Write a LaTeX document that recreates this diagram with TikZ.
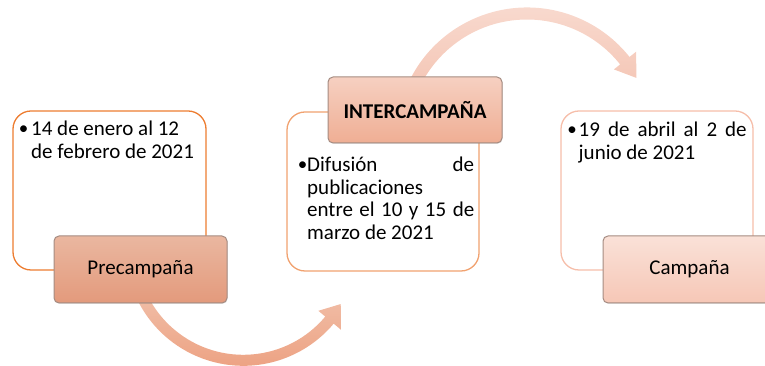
\documentclass[tikz,border=0pt]{standalone}
\usepackage{fontspec}
\setmainfont{Carlito}
\usetikzlibrary{shadows}
\definecolor{edge1}{RGB}{237,125,49}
\definecolor{edge2}{RGB}{241,162,112}
\definecolor{edge3}{RGB}{246,190,170}
\definecolor{tagedge}{RGB}{165,140,130}
\begin{document}
\begin{tikzpicture}[x=1pt,y=1pt,
  panel/.style={draw, line width=1.3pt, rounded corners=18pt, fill=white, inner sep=0pt},
  tagbox/.style={draw=tagedge, line width=1pt, rounded corners=5pt, inner sep=0pt,
    font=\fontsize{21}{23}\selectfont,
    drop shadow={shadow xshift=0.6pt, shadow yshift=-0.8pt, opacity=0.25}},
  txt/.style={inner sep=0pt, anchor=base west, font=\fontsize{21}{23}\selectfont},
  bul/.style={inner sep=0pt, anchor=center, font=\fontsize{19}{23}\selectfont}
]
\path[use as bounding box] (0,0) rectangle (765,366);
\clip (0,0) rectangle (765,366);

% panels
\node[panel, draw=edge1, minimum width=193pt, minimum height=159pt] (p1) at (109.5,175.5) {};
\node[panel, draw=edge2, minimum width=192pt, minimum height=159pt] (p2) at (383,174.5) {};
\node[panel, draw=edge3, minimum width=192pt, minimum height=159pt] (p3) at (657,175.5) {};

% arrows
\coordinate (c1) at (243.3,118.2);
\coordinate (c2) at (527,227.5);
\shade[top color={rgb,255:red,241;green,192;blue,170}, bottom color={rgb,255:red,236;green,157;blue,124}]
  ([shift={(c1)}]202:118) arc[start angle=202, end angle=320, radius=118]
  -- ([shift={(c1)}]320:127.5) -- ([shift={(c1)}]330:112.5) -- ([shift={(c1)}]320:98)
  -- ([shift={(c1)}]320:107) arc[start angle=320, end angle=202, radius=107] -- cycle;
\shade[top color={rgb,255:red,249;green,221;blue,211}, bottom color={rgb,255:red,244;green,197;blue,180}]
  ([shift={(c2)}]157:131) arc[start angle=157, end angle=38.5, radius=131]
  -- ([shift={(c2)}]38.5:139.5) -- ([shift={(c2)}]29:125) -- ([shift={(c2)}]38.5:111)
  -- ([shift={(c2)}]38.5:119) arc[start angle=38.5, end angle=157, radius=119] -- cycle;

% tag boxes
\node[tagbox, minimum width=173pt, minimum height=67pt,
  top color={rgb,255:red,234;green,183;blue,160}, bottom color={rgb,255:red,227;green,154;blue,124}]
  (t1) at (140.5,96.5) {Precampaña};
\node[tagbox, minimum width=174pt, minimum height=66pt,
  top color={rgb,255:red,246;green,208;blue,193}, bottom color={rgb,255:red,239;green,174;blue,148}]
  (t2) at (415,256) {\bfseries INTERCAMPAÑA};
\node[tagbox, minimum width=173pt, minimum height=67pt,
  top color={rgb,255:red,250;green,225;blue,216}, bottom color={rgb,255:red,246;green,199;blue,182}]
  (t3) at (689.5,96.5) {Campaña};

% texts panel 1
\node[bul] (b1) at (23.5,236) {•};
\node[txt] (a1) at (31,230) {14 de enero al 12};
\node[txt] (a2) at (31,207) {de febrero de 2021};

% texts panel 2
\node[bul] (b2) at (302.5,200) {•};
\node[txt] (m1) at (307,194) {\makebox[167pt][s]{Difusión de}};
\node[txt] (m2) at (307,171.5) {publicaciones};
\node[txt] (m3) at (307,149) {\makebox[167pt][s]{entre el 10 y 15 de}};
\node[txt] (m4) at (307,126.5) {marzo de 2021};

% texts panel 3
\node[bul] (b3) at (572,235) {•};
\node[txt] (z1) at (578.5,229.3) {\makebox[168pt][s]{19 de abril al 2 de}};
\node[txt] (z2) at (578.5,206.7) {junio de 2021};
\end{tikzpicture}
\end{document}
